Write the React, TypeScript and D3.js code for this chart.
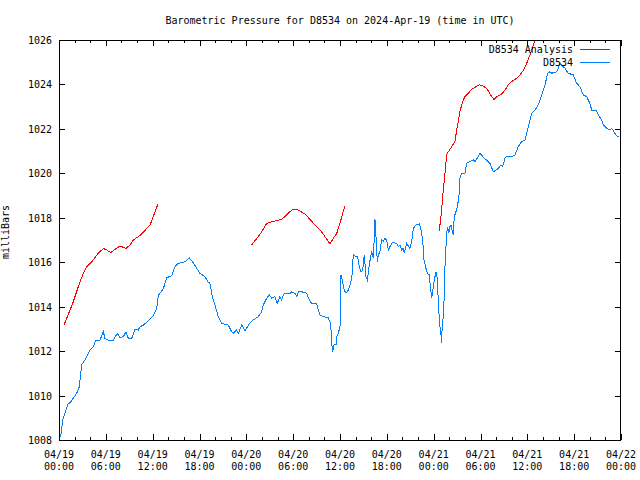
import React from "react";
import * as d3 from "d3";

// time in hours since 2024-04-19 00:00 UTC
const stationHours = [0.22,0.47,0.77,1.19,1.41,1.83,2.27,2.6,2.91,3.33,3.97,4.39,4.74,5.25,5.68,5.89,6.32,6.96,7.47,7.81,8.24,8.58,8.88,9.31,9.74,10.16,10.38,10.8,11.24,11.66,12.08,12.52,12.72,13.36,13.8,14.44,14.86,15.28,16.14,16.69,17.2,17.64,18.06,18.7,19.13,19.34,19.69,19.98,20.41,20.84,21.69,22.12,22.33,22.76,22.97,23.41,23.83,24.47,24.89,25.53,25.97,26.17,26.61,26.94,27.25,27.67,27.97,28.31,28.53,28.73,28.95,29.59,29.81,30.23,30.45,30.66,31.09,31.73,31.94,32.37,33.01,33.22,33.44,33.86,34.5,34.72,34.85,34.94,35.06,35.23,35.49,35.58,35.78,36.0,36.13,36.29,36.55,36.77,37.06,37.37,37.54,37.7,38.05,38.27,38.47,38.69,38.91,39.11,39.33,39.5,39.75,39.93,40.06,40.26,40.35,40.48,40.61,40.78,40.9,41.12,41.34,41.55,41.76,41.98,42.19,42.4,42.7,43.26,43.47,43.68,43.9,44.11,44.24,44.54,44.97,45.18,45.39,45.82,46.16,46.34,46.59,46.76,47.01,47.18,47.44,47.62,47.75,47.87,48.08,48.3,48.46,48.64,48.81,48.94,48.98,49.1,49.23,49.36,49.45,49.58,49.67,49.8,49.93,50.09,50.22,50.35,50.51,50.64,50.86,51.08,51.24,51.37,51.59,52.01,52.23,52.65,53.08,53.29,53.59,53.93,54.15,54.45,54.79,55.21,55.64,55.98,56.28,56.62,56.84,57.13,57.35,57.99,58.42,58.84,59.28,59.7,59.92,60.34,60.56,60.98,61.4,61.84,62.26,62.61,62.9,63.12,63.32,63.76,63.96,64.18,64.4,64.6,64.82,65.24,65.89,66.32,66.74,67.17,67.6,68.02,68.24,68.79,69.09,69.52,69.73,70.16,70.58,70.8,71.23,71.45,71.78];
const stationValues = [1008.15,1008.9,1009.2,1009.65,1009.67,1009.88,1010.1,1010.4,1011.4,1011.6,1012.05,1012.2,1012.5,1012.5,1012.87,1012.57,1012.5,1012.5,1012.8,1012.6,1012.65,1012.87,1012.57,1012.57,1013.0,1012.95,1013.1,1013.17,1013.3,1013.45,1013.6,1013.9,1014.5,1014.8,1015.3,1015.4,1015.8,1015.95,1016.02,1016.2,1015.98,1015.73,1015.5,1015.35,1015.1,1015.05,1014.38,1014.08,1013.55,1013.25,1013.17,1012.87,1012.8,1012.95,1012.8,1013.17,1012.92,1013.28,1013.4,1013.55,1013.77,1014.08,1014.38,1014.53,1014.38,1014.45,1014.15,1014.45,1014.3,1014.53,1014.6,1014.6,1014.67,1014.6,1014.45,1014.67,1014.67,1014.6,1014.38,1014.15,1014.12,1013.85,1013.63,1013.55,1013.5,1013.3,1012.95,1012.35,1011.97,1012.27,1012.3,1012.65,1012.8,1013.1,1015.43,1015.2,1014.75,1014.6,1014.75,1015.05,1015.43,1016.33,1016.25,1016.25,1015.8,1015.57,1015.65,1016.33,1015.35,1015.2,1015.88,1016.25,1016.48,1016.17,1016.78,1017.93,1017.15,1016.03,1016.33,1016.48,1017.0,1016.93,1017.07,1017.0,1016.55,1016.7,1016.88,1016.85,1016.7,1016.78,1016.55,1016.62,1016.4,1016.85,1016.62,1016.93,1017.53,1017.7,1017.72,1017.53,1017.0,1016.1,1015.73,1015.5,1015.43,1014.75,1014.4,1014.67,1015.2,1015.57,1015.27,1013.85,1013.1,1012.73,1012.38,1013.1,1013.55,1014.53,1015.8,1016.7,1017.3,1017.6,1017.3,1017.6,1017.67,1017.45,1017.23,1018.05,1018.28,1018.58,1019.0,1019.78,1020.0,1020.0,1020.45,1020.53,1020.6,1020.53,1020.68,1020.9,1020.83,1020.68,1020.6,1020.45,1020.07,1020.15,1020.22,1020.38,1020.3,1020.68,1020.75,1020.75,1020.83,1021.2,1021.43,1021.5,1021.8,1022.4,1022.7,1022.85,1023.08,1023.53,1023.98,1024.5,1024.57,1024.5,1024.53,1024.57,1024.73,1024.95,1024.87,1024.8,1024.73,1024.5,1024.43,1024.05,1023.9,1023.53,1023.45,1023.15,1022.85,1022.85,1022.63,1022.4,1022.18,1022.03,1021.95,1022.03,1021.8,1021.68,1021.65];

// analysis series: three separate runs
const analysis1Hours = [0.64,1.41,1.83,2.47,3.11,3.55,4.19,5.03,5.68,6.11,6.62,7.17,7.81,8.58,9.1,9.52,10.38,11.66,12.68];
const analysis1Values = [1013.17,1013.85,1014.22,1014.9,1015.5,1015.8,1016.02,1016.4,1016.62,1016.55,1016.43,1016.58,1016.73,1016.62,1016.78,1017.0,1017.2,1017.67,1018.62];
const analysis2Hours = [24.69,25.33,25.97,26.61,27.25,27.89,28.53,28.95,29.59,30.02,30.45,30.87,31.51,32.15,32.8,33.44,34.08,34.72,35.14,35.58,36.0,36.34,36.64];
const analysis2Values = [1016.78,1017.07,1017.37,1017.75,1017.82,1017.87,1017.93,1018.05,1018.28,1018.38,1018.38,1018.3,1018.17,1017.93,1017.67,1017.45,1017.15,1016.82,1017.07,1017.3,1017.75,1018.2,1018.53];
const analysis3Hours = [48.72,48.94,49.03,49.23,49.45,49.67,49.87,50.31,50.73,50.95,51.15,51.37,51.59,51.79,52.01,52.43,52.87,53.29,53.84,54.36,54.79,55.3,55.73,56.07,56.71,57.14,57.56,57.99,58.63,59.06,59.57,59.92,60.34,60.76,60.98];
const analysis3Values = [1017.42,1018.08,1018.4,1019.25,1020.0,1020.83,1020.97,1021.2,1021.43,1021.95,1022.33,1022.78,1023.08,1023.3,1023.45,1023.6,1023.78,1023.87,1023.98,1023.92,1023.83,1023.53,1023.33,1023.45,1023.57,1023.75,1023.98,1024.13,1024.28,1024.43,1024.68,1024.95,1025.33,1025.78,1026.0];

const yTicks = [1008, 1010, 1012, 1014, 1016, 1018, 1020, 1022, 1024, 1026];
const xTickHours = [0, 6, 12, 18, 24, 30, 36, 42, 48, 54, 60, 66, 72];
const xTickDates = ["04/19","04/19","04/19","04/19","04/20","04/20","04/20","04/20","04/21","04/21","04/21","04/21","04/22"];
const xTickTimes = ["00:00","06:00","12:00","18:00","00:00","06:00","12:00","18:00","00:00","06:00","12:00","18:00","00:00"];
const xMinorHours = d3.range(0, 73, 2);

const title = "Barometric Pressure for D8534 on 2024-Apr-19 (time in UTC)";
const yLabel = "milliBars";
const legendNames = ["D8534 Analysis", "D8534"];
const RED = "#ff0000";
const BLUE = "#0080ff";
const FONT = "'DejaVu Sans Mono', 'Liberation Mono', monospace";

export default function App() {
  const L = 59, R = 621, T = 40, B = 440;
  const x = d3.scaleLinear().domain([0, 72]).range([L, R]);
  const y = d3.scaleLinear().domain([1008, 1026]).range([B, T]);
  const line = d3.line<[number, number]>().x(d => x(d[0])).y(d => y(d[1]));
  const zip = (h: number[], v: number[]) => h.map((t, i) => [t, v[i]] as [number, number]);
  const analysisRuns = [
    zip(analysis1Hours, analysis1Values),
    zip(analysis2Hours, analysis2Values),
    zip(analysis3Hours, analysis3Values),
  ];
  const station = zip(stationHours, stationValues);

  return (
    <svg width={640} height={480} style={{ position: "absolute", left: 0, top: 0, background: "#fff" }}
      fontFamily={FONT} fontSize={10}>
      <rect x={0} y={0} width={640} height={480} fill="#fff" />
      <defs>
        <clipPath id="plot"><rect x={L} y={T} width={R - L} height={B - T} /></clipPath>
      </defs>
      <text x={340} y={24} textAnchor="middle" fill="#000">{title}</text>
      <text transform={`translate(9,232) rotate(-90)`} textAnchor="middle" fill="#000">{yLabel}</text>

      {yTicks.map(v => (
        <g key={v} shapeRendering="crispEdges">
          <line x1={L} x2={L + 6} y1={Math.round(y(v)) + 0.5} y2={Math.round(y(v)) + 0.5} stroke="#000" />
          <line x1={R - 6} x2={R} y1={Math.round(y(v)) + 0.5} y2={Math.round(y(v)) + 0.5} stroke="#000" />
          <text x={52} y={y(v) + 4} textAnchor="end" fill="#000">{v}</text>
        </g>
      ))}
      {xMinorHours.map(h => {
        const major = h % 6 === 0;
        const len = major ? 6 : 3;
        const px = Math.round(x(h)) + 0.5;
        return (
          <g key={h} shapeRendering="crispEdges">
            <line x1={px} x2={px} y1={B} y2={B - len} stroke="#000" />
            <line x1={px} x2={px} y1={T} y2={T + len} stroke="#000" />
          </g>
        );
      })}
      {xTickHours.map((h, i) => (
        <g key={h}>
          <text x={x(h)} y={458} textAnchor="middle" fill="#000">{xTickDates[i]}</text>
          <text x={x(h)} y={470} textAnchor="middle" fill="#000">{xTickTimes[i]}</text>
        </g>
      ))}

      <g clipPath="url(#plot)" fill="none" strokeWidth={1} shapeRendering="crispEdges">
        {analysisRuns.map((run, i) => (
          <path key={i} d={line(run) || ""} stroke={RED} />
        ))}
        <path d={line(station) || ""} stroke={BLUE} />
      </g>

      <g shapeRendering="crispEdges">
        <text x={573} y={53} textAnchor="end" fill="#000">{legendNames[0]}</text>
        <line x1={580} x2={610} y1={49.5} y2={49.5} stroke={RED} />
        <text x={573} y={66} textAnchor="end" fill="#000">{legendNames[1]}</text>
        <line x1={580} x2={610} y1={62.5} y2={62.5} stroke={BLUE} />
        <rect x={L + 0.5} y={T + 0.5} width={R - L - 1} height={B - T} fill="none" stroke="#000" />
      </g>
    </svg>
  );
}
